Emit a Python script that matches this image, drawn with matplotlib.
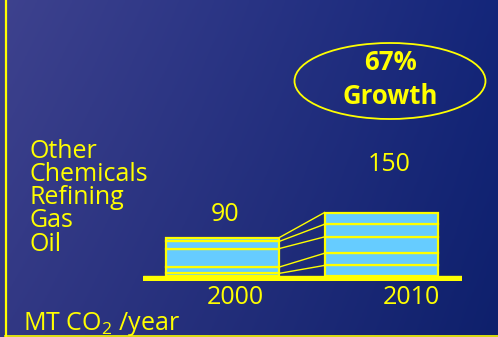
import numpy as np
import matplotlib
matplotlib.use("Agg")
import matplotlib.pyplot as plt
from matplotlib.patches import Ellipse
from matplotlib.lines import Line2D

# MT CO2 per year by source, stacked bottom to top
years = ["2000", "2010"]
sources = ["Oil", "Gas", "Refining", "Chemicals", "Other"]
emissions_2000 = [5, 15, 44, 17, 9]
emissions_2010 = [24, 29, 39, 30, 28]
totals = [90, 150]
growth_label = "67%\nGrowth"
unit_label = "MT CO$_2$ /year"

YELLOW = "#ffff00"
FILL = "#66ccff"
FONT = "Open Sans"

plt.rcParams["font.family"] = [FONT, "DejaVu Sans"]
plt.rcParams["mathtext.fontset"] = "custom"
plt.rcParams["mathtext.rm"] = FONT
plt.rcParams["mathtext.it"] = FONT
plt.rcParams["mathtext.default"] = "regular"

W, H = 498, 337
fig = plt.figure(figsize=(W / 100, H / 100), dpi=100)


def px(x, y):
    # pixel position from the top-left corner -> figure fraction
    return x / W, 1 - y / H


# blue gradient backdrop
bg = fig.add_axes([0, 0, 1, 1], zorder=-10)
bg.axis("off")
tl = np.array([62, 66, 142]) / 255
tr = np.array([20, 38, 122]) / 255
bl = np.array([50, 56, 132]) / 255
br = np.array([14, 32, 108]) / 255
u = np.linspace(0, 1, 200)[None, :, None]
v = np.linspace(0, 1, 120)[:, None, None]
top = tl * (1 - u) + tr * u
bot = bl * (1 - u) + br * u
grad = top * (1 - v) + bot * v
bg.imshow(grad, aspect="auto", extent=[0, 1, 0, 1])
bg.set_xlim(0, 1)
bg.set_ylim(0, 1)

# frame lines on the left and bottom
fig.add_artist(Line2D([px(5.5, 0)[0]] * 2, [0, 1], color=YELLOW, lw=1.6))
fig.add_artist(Line2D([px(5, 0)[0], 1], [px(0, 335.8)[1]] * 2, color=YELLOW, lw=1.2))

# bar axes: value 0 sits at pixel row 275.5, 0.42 px per MT
scale = 0.42
y_lo, y_hi = 280.5, 75.5
x_lo, x_hi = 143, 462
ax = fig.add_axes([x_lo / W, 1 - y_lo / H, (x_hi - x_lo) / W, (y_lo - y_hi) / H])
ax.set_ylim(-(y_lo - 275.5) / scale, (275.5 - y_hi) / scale)
step = 159.0
ax.set_xlim(-(222.3 - x_lo) / step, (x_hi - 222.3) / step)
ax.axis("off")
ax.patch.set_alpha(0)

width = 113.5 / step
xs = np.arange(len(years))
stacks = [emissions_2000, emissions_2010]

for x, vals in zip(xs, stacks):
    bottoms = np.concatenate([[0], np.cumsum(vals)[:-1]])
    ax.bar(np.full(len(vals), x), vals, width, bottom=bottoms, color=FILL,
           edgecolor=YELLOW, linewidth=1.6, zorder=3)

# connector lines between matching segment boundaries
cum0 = np.cumsum(emissions_2000)
cum1 = np.cumsum(emissions_2010)
for a, b in zip(cum0, cum1):
    ax.plot([xs[0] + width / 2, xs[1] - width / 2], [a, b], color=YELLOW,
            lw=1.0, zorder=2)

# baseline strip
ax.axhspan(-(y_lo - 275.5) / scale, 0, color=YELLOW, zorder=4)

# totals above bars
ax.text(xs[0] + 0.02, totals[0] + 23 / scale, str(totals[0]), color=YELLOW,
        fontsize=18, ha="center", va="center")
ax.text(xs[1] + 0.05, totals[1] + 48 / scale, str(totals[1]), color=YELLOW,
        fontsize=18, ha="center", va="center")

# year labels
for x, yr, off in zip(xs, years, [0.08, 0.19]):
    ax.text(x + off, -(298 - 275.5) / scale, yr, color=YELLOW, fontsize=18,
            ha="center", va="center")

# source legend, top to bottom
for i, name in enumerate(sources[::-1]):
    fig.text(*px(29, 157.7 + i * 23.25), name, color=YELLOW, fontsize=18,
             ha="left", va="baseline")

fig.text(*px(23, 330.5), unit_label, color=YELLOW, fontsize=18,
         ha="left", va="baseline")

# growth callout
cx, cy = px(390, 81)
fig.add_artist(Ellipse((cx, cy), 191 / W, 76 / H, transform=fig.transFigure,
                       facecolor="none", edgecolor=YELLOW, lw=1.3))
fig.text(cx, cy + 1.5 / H, growth_label, color=YELLOW, fontsize=18.5,
         fontweight="bold", ha="center", va="center", linespacing=1.3)

fig.savefig("out.png", dpi=100)
